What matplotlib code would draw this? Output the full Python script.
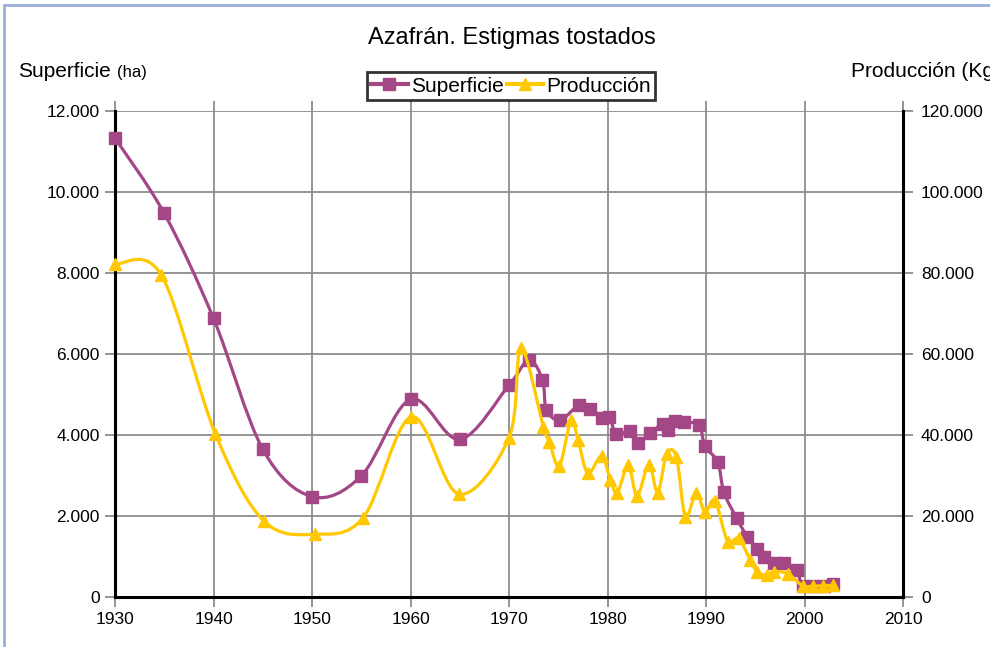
import numpy as np
import matplotlib
matplotlib.use("Agg")
import matplotlib.pyplot as plt
from matplotlib.path import Path
from matplotlib.patches import PathPatch, Rectangle
from matplotlib.lines import Line2D

plt.rcParams["font.family"] = ["Liberation Sans", "DejaVu Sans"]

# Superficie (ha)
sup_years = [1930, 1935, 1940, 1945, 1950, 1955, 1960, 1965, 1970, 1972.0, 1973.4,
             1973.8, 1975.2, 1977.1, 1978.2, 1979.4, 1980.2, 1980.9, 1982.3, 1983.1,
             1984.3, 1985.6, 1986.1, 1986.9, 1987.8, 1989.3, 1989.9, 1991.2, 1991.8,
             1993.1, 1994.2, 1995.2, 1995.9, 1996.9, 1997.9, 1999.2, 1999.8, 2000.9,
             2002.0, 2002.9]
sup_vals = [11330, 9470, 6880, 3650, 2480, 2990, 4880, 3890, 5230, 5850, 5360,
            4620, 4370, 4740, 4640, 4420, 4440, 4020, 4100, 3810,
            4050, 4260, 4120, 4350, 4310, 4250, 3720, 3330, 2600,
            1950, 1490, 1190, 1000, 830, 830, 660, 260, 260,
            270, 310]

# Producción (Kg)
prod_years = [1930, 1934.7, 1940.2, 1945.1, 1950.3, 1955.2, 1960.1, 1964.9, 1970, 1971.2,
              1973.5, 1974.1, 1975.1, 1976.3, 1977.0, 1978.0, 1979.4, 1980.3, 1981.0,
              1982.1, 1983.0, 1984.2, 1985.1, 1986.0, 1987.0, 1987.9, 1989.0, 1989.9,
              1990.9, 1992.2, 1993.3, 1994.5, 1995.2, 1996.2, 1996.9, 1998.3, 1999.8,
              2000.9, 2001.9, 2002.9]
prod_vals = [82200, 79500, 40200, 18800, 15500, 19600, 44500, 25400, 39300, 61400,
             42000, 38300, 32300, 43700, 38800, 30600, 34800, 28900, 25700,
             32600, 25000, 32700, 25800, 35300, 34500, 19800, 25700, 21000,
             23800, 13700, 14500, 9100, 6200, 5400, 6200, 5800, 2800,
             2700, 2800, 2900]

x_ticks = [1930, 1940, 1950, 1960, 1970, 1980, 1990, 2000, 2010]
left_ticks = [0, 2000, 4000, 6000, 8000, 10000, 12000]
left_labels = ["0", "2.000", "4.000", "6.000", "8.000", "10.000", "12.000"]
right_ticks = [0, 20000, 40000, 60000, 80000, 100000, 120000]
right_labels = ["0", "20.000", "40.000", "60.000", "80.000", "100.000", "120.000"]

PURPLE = "#a34787"
YELLOW = "#ffc800"
GRID = "#8c8c8c"


def smooth_path(xs, ys):
    # bezier smoothing like a spreadsheet "smoothed line"
    pts = np.column_stack([xs, ys]).astype(float)
    n = len(pts)
    verts = [pts[0]]
    codes = [Path.MOVETO]
    for i in range(n - 1):
        p0 = pts[i - 1] if i > 0 else pts[i]
        p1 = pts[i]
        p2 = pts[i + 1]
        p3 = pts[i + 2] if i + 2 < n else pts[i + 1]
        verts += [p1 + (p2 - p0) / 6, p2 - (p3 - p1) / 6, p2]
        codes += [Path.CURVE4] * 3
    return Path(verts, codes)


fig = plt.figure(figsize=(9.9, 6.47), dpi=100)
ax = fig.add_axes([115 / 990, 1 - 597 / 647, (903 - 115) / 990, (597 - 111) / 647])
ax2 = ax.twinx()

ax.set_xlim(1930, 2010)
ax.set_ylim(0, 12000)
ax2.set_ylim(0, 120000)

ax.set_xticks(x_ticks)
ax.set_yticks(left_ticks)
ax.set_yticklabels(left_labels)
ax2.set_yticks(right_ticks)
ax2.set_yticklabels(right_labels)

ax.grid(True, color=GRID, linewidth=1.3)
ax.set_axisbelow(True)

for a in (ax, ax2):
    a.spines["top"].set_visible(False)
    for s in ("left", "bottom", "right"):
        a.spines[s].set_linewidth(2.2)
        a.spines[s].set_color("black")
ax.spines["right"].set_visible(False)
ax2.spines["left"].set_visible(False)
ax2.spines["bottom"].set_visible(False)

ax.tick_params(axis="both", direction="out", length=7, width=1.3, color=GRID,
               labelsize=12.5, pad=4, top=True)
ax2.tick_params(axis="y", direction="out", length=7, width=1.3, color=GRID,
                labelsize=12.5, pad=6)

ax.add_patch(PathPatch(smooth_path(sup_years, sup_vals), fill=False,
                       edgecolor=PURPLE, linewidth=2.3, zorder=3))
ax.plot(sup_years, sup_vals, linestyle="none", marker="s", markersize=8.5,
        color=PURPLE, zorder=4, clip_on=False)
ax2.add_patch(PathPatch(smooth_path(prod_years, prod_vals), fill=False,
                        edgecolor=YELLOW, linewidth=2.3, zorder=3))
ax2.plot(prod_years, prod_vals, linestyle="none", marker="^", markersize=8.5,
         color=YELLOW, zorder=4, clip_on=False)

fig.text(512 / 990, 1 - 38 / 647, "Azafrán. Estigmas tostados", ha="center",
         va="center", fontsize=17)
fig.text(18 / 990, 1 - 77 / 647, "Superficie", ha="left", va="baseline", fontsize=15)
fig.text(117 / 990, 1 - 77 / 647, "(ha)", ha="left", va="baseline", fontsize=12)
fig.text(851 / 990, 1 - 77 / 647, "Producción (Kg)", ha="left", va="baseline",
         fontsize=15)

handles = [Line2D([], [], color=PURPLE, marker="s", markersize=8.5, linewidth=3),
           Line2D([], [], color=YELLOW, marker="^", markersize=8.5, linewidth=3)]
leg = fig.legend(handles, ["Superficie", "Producción"], loc="center",
                 bbox_to_anchor=(511 / 990, 1 - 86 / 647), ncol=2, fontsize=15,
                 frameon=True, fancybox=False, handlelength=1.75, handletextpad=0.15,
                 columnspacing=0.15, borderpad=0.2, borderaxespad=0)
leg.get_frame().set_edgecolor("black")
leg.get_frame().set_linewidth(2)

fig.add_artist(Rectangle((4 / 990, -0.05), 1.2, 1.05 - 5 / 647,
                         transform=fig.transFigure, fill=False,
                         edgecolor="#9aaedb", linewidth=2))

fig.savefig("out.png", dpi=100)
